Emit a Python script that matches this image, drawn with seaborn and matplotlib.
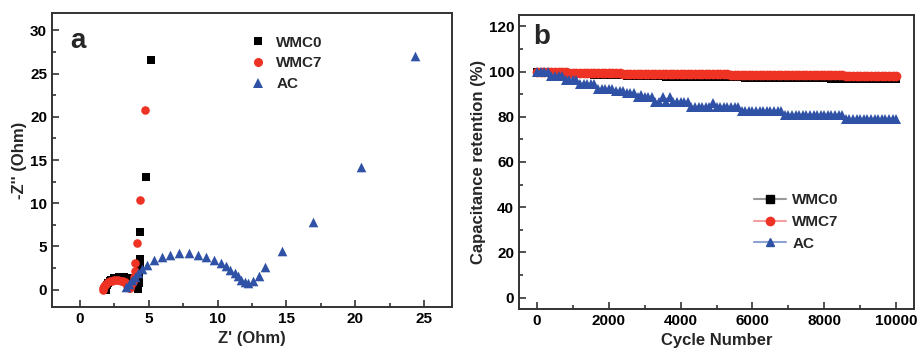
import numpy as np
import pandas as pd
import seaborn as sns
import matplotlib
matplotlib.use("Agg")
import matplotlib.pyplot as plt
from matplotlib.lines import Line2D
from matplotlib.ticker import MultipleLocator

# ---------------- Data: panel a (Nyquist) ----------------
wmc0_x = [1.90, 1.92, 1.97, 2.05, 2.17, 2.31, 2.48, 2.66, 2.85, 3.05, 3.25, 3.44, 3.63, 3.79,
          3.93, 4.05, 4.13, 4.18, 4.20, 4.25, 4.28, 4.30, 4.32, 4.35, 4.38, 4.40, 4.83, 5.19]
wmc0_y = [0.00, 0.26, 0.51, 0.75, 0.96, 1.15, 1.30, 1.41, 1.48, 1.50, 1.48, 1.41, 1.30, 1.15,
          0.96, 0.75, 0.51, 0.26, 0.05, 0.30, 0.80, 1.30, 1.90, 2.60, 3.50, 6.70, 13.0, 26.6]

wmc7_x = [1.70, 1.71, 1.76, 1.83, 1.92, 2.04, 2.18, 2.33, 2.49, 2.65, 2.82, 2.98, 3.13, 3.26,
          3.38, 3.47, 3.54, 3.59, 3.65, 3.75, 3.85, 3.95, 4.00, 4.04, 4.16, 4.40, 4.76]
wmc7_y = [0.00, 0.19, 0.38, 0.55, 0.71, 0.84, 0.95, 1.03, 1.08, 1.10, 1.08, 1.03, 0.95, 0.84,
          0.71, 0.55, 0.38, 0.19, 0.20, 0.50, 0.90, 1.50, 2.20, 3.10, 5.40, 10.4, 20.8]

ac_x = [3.40, 3.60, 3.80, 4.00, 4.25, 4.50, 4.90, 5.40, 5.96, 6.56, 7.23, 7.93, 8.60, 9.20,
        9.73, 10.24, 10.65, 10.94, 11.25, 11.49, 11.73, 11.97, 12.20, 12.57, 12.98, 13.46,
        14.66, 16.90, 20.40, 24.30]
ac_y = [0.30, 0.70, 1.10, 1.50, 1.95, 2.35, 2.90, 3.40, 3.77, 4.04, 4.23, 4.23, 4.04, 3.77,
        3.46, 3.08, 2.69, 2.31, 1.92, 1.53, 1.15, 0.84, 0.77, 1.04, 1.61, 2.57,
        4.50, 7.88, 14.2, 27.0]

# ---------------- Data: panel b (cycling) ----------------
cycles = list(range(0, 10001, 100))

wmc0_ret = [100.0, 99.8, 99.6, 99.5, 99.4, 99.3, 99.2, 99.1, 99.0, 99.0, 98.9,
            98.9, 98.8, 98.8, 98.7, 98.7, 98.6, 98.6, 98.5, 98.5, 98.4,
            98.4, 98.3, 98.3, 98.3, 98.2, 98.2, 98.1, 98.1, 98.1, 98.0,
            98.0, 98.0, 97.9, 97.9, 97.9, 97.8, 97.8, 97.8, 97.8, 97.7,
            97.7, 97.7, 97.7, 97.6, 97.6, 97.6, 97.6, 97.5, 97.5, 97.5,
            97.5, 97.5, 97.4, 97.4, 97.4, 97.4, 97.4, 97.3, 97.3, 97.3,
            97.3, 97.3, 97.3, 97.2, 97.2, 97.2, 97.2, 97.2, 97.2, 97.1,
            97.1, 97.1, 97.1, 97.1, 97.1, 97.0, 97.0, 97.0, 97.0, 97.0,
            97.0, 96.9, 96.9, 96.9, 96.9, 96.9, 96.9, 96.9, 96.8, 96.8,
            96.8, 96.8, 96.8, 96.8, 96.8, 96.7, 96.7, 96.7, 96.7, 96.7]

wmc7_ret = [100.0, 99.9, 99.8, 99.8, 99.7, 99.7, 99.6, 99.6, 99.6, 99.5, 99.5,
            99.5, 99.4, 99.4, 99.4, 99.4, 99.3, 99.3, 99.3, 99.3, 99.2,
            99.2, 99.2, 99.2, 99.1, 99.1, 99.1, 99.1, 99.1, 99.0, 99.0,
            99.0, 99.0, 99.0, 98.9, 98.9, 98.9, 98.9, 98.9, 98.9, 98.8,
            98.8, 98.8, 98.8, 98.8, 98.8, 98.8, 98.7, 98.7, 98.7, 98.7,
            98.7, 98.7, 98.7, 98.6, 98.6, 98.6, 98.6, 98.6, 98.6, 98.6,
            98.5, 98.5, 98.5, 98.5, 98.5, 98.5, 98.5, 98.5, 98.4, 98.4,
            98.4, 98.4, 98.4, 98.4, 98.4, 98.4, 98.3, 98.3, 98.3, 98.3,
            98.3, 98.3, 98.3, 98.3, 98.3, 98.2, 98.2, 98.2, 98.2, 98.2,
            98.2, 98.2, 98.2, 98.2, 98.2, 98.1, 98.1, 98.1, 98.1, 98.1]

ac_ret = [100.0, 100.0, 100.0, 100.0, 98.0, 98.0, 98.0, 98.0, 96.2, 96.2,
          96.2, 96.2, 94.3, 94.3, 94.3, 94.3, 94.3, 92.4, 92.4, 92.4,
          92.4, 92.4, 91.3, 91.3, 91.3, 90.3, 90.3, 90.3, 88.8, 89.6,
          88.8, 88.8, 88.8, 86.6, 86.6, 88.8, 86.6, 88.8, 86.6, 86.6,
          86.6, 86.6, 86.6, 84.4, 84.4, 84.4, 84.4, 84.4, 84.4, 86.3,
          84.4, 84.4, 84.4, 84.4, 84.4, 84.4, 84.4, 82.4, 82.4, 82.4,
          82.4, 82.4, 82.4, 82.4, 82.4, 82.4, 82.4, 82.4, 82.6, 80.7,
          80.7, 80.7, 80.7, 80.7, 80.7, 80.7, 80.7, 80.7, 80.7, 80.7,
          80.7, 80.7, 80.7, 80.7, 80.7, 80.7, 78.9, 78.9, 78.9, 78.9,
          78.9, 78.9, 78.9, 78.9, 78.9, 78.9, 78.9, 78.9, 78.9, 78.9,
          78.9]

labels = ["WMC0", "WMC7", "AC"]
colors = {"WMC0": "#000000", "WMC7": "#EE3224", "AC": "#2F52A6"}
light = {"WMC0": "#999999", "WMC7": "#F4A0A0", "AC": "#8FA2D4"}

# ---------------- Style ----------------
sns.set_theme(style="white")
plt.rcParams["font.family"] = ["Liberation Sans", "DejaVu Sans"]
plt.rcParams["font.weight"] = "bold"
plt.rcParams["axes.labelweight"] = "bold"

fig = plt.figure(figsize=(9.17, 3.48), dpi=100)
axa = fig.add_axes([0.0567, 0.1178, 0.4362, 0.8448])
axb = fig.add_axes([0.5660, 0.1121, 0.4308, 0.8448])

spine_col = "#333333"
for ax in (axa, axb):
    for s in ax.spines.values():
        s.set_color(spine_col)
        s.set_linewidth(1.4)
    ax.tick_params(which="both", direction="in", bottom=True, left=True, top=False, right=False,
                   colors=spine_col, labelcolor="black", labelsize=11, width=1.2)
    ax.tick_params(which="major", length=5)
    ax.tick_params(which="minor", length=3)
    ax.set_facecolor("white")

# ---------------- Panel a ----------------
dfa = pd.concat([
    pd.DataFrame({"x": wmc0_x, "y": wmc0_y, "s": "WMC0"}),
    pd.DataFrame({"x": wmc7_x, "y": wmc7_y, "s": "WMC7"}),
    pd.DataFrame({"x": ac_x, "y": ac_y, "s": "AC"}),
])
mk = {"WMC0": "s", "WMC7": "o", "AC": "^"}
sz = {"WMC0": 30, "WMC7": 38, "AC": 48}
for lab in labels:
    sub = dfa[dfa["s"] == lab]
    sns.scatterplot(data=sub, x="x", y="y", ax=axa, color=colors[lab], marker=mk[lab],
                    s=sz[lab], linewidth=0, label=lab, legend=False, zorder=3)

axa.set_xlim(-2, 27)
axa.set_ylim(-2, 32)
axa.xaxis.set_major_locator(MultipleLocator(5))
axa.xaxis.set_minor_locator(MultipleLocator(2.5))
axa.yaxis.set_major_locator(MultipleLocator(5))
axa.yaxis.set_minor_locator(MultipleLocator(2.5))
axa.set_xlabel("Z' (Ohm)", fontsize=12, fontweight="bold", labelpad=4)
axa.set_ylabel("-Z'' (Ohm)", fontsize=12, fontweight="bold", labelpad=2)
for t in axa.get_xticklabels() + axa.get_yticklabels():
    t.set_fontweight("bold")
axa.text(0.045, 0.905, "a", transform=axa.transAxes, fontsize=20, fontweight="bold",
         va="center", ha="left")
ha = [Line2D([0], [0], lw=0, marker=mk[l], color=colors[l], markersize=6.5 if l != "WMC0" else 5.5,
             markeredgewidth=0) for l in labels]
axa.legend(ha, labels, loc="upper left", bbox_to_anchor=(0.458, 0.97), frameon=False,
           prop={"weight": "bold", "size": 11}, handletextpad=0.6, labelspacing=0.45,
           handlelength=1.2)

# ---------------- Panel b ----------------
dfb = pd.concat([
    pd.DataFrame({"c": cycles, "r": wmc0_ret, "s": "WMC0"}),
    pd.DataFrame({"c": cycles, "r": wmc7_ret, "s": "WMC7"}),
    pd.DataFrame({"c": cycles, "r": ac_ret, "s": "AC"}),
])
msz = {"WMC0": 6, "WMC7": 7, "AC": 7.5}
for lab in labels:
    sub = dfb[dfb["s"] == lab]
    sns.lineplot(data=sub, x="c", y="r", ax=axb, color=colors[lab], marker=mk[lab],
                 markersize=msz[lab], markeredgewidth=0,
                 linewidth=1, legend=False, zorder=3)

axb.set_xlim(-500, 10500)
axb.set_ylim(-5, 125)
axb.xaxis.set_major_locator(MultipleLocator(2000))
axb.xaxis.set_minor_locator(MultipleLocator(1000))
axb.yaxis.set_major_locator(MultipleLocator(20))
axb.yaxis.set_minor_locator(MultipleLocator(10))
axb.set_xlabel("Cycle Number", fontsize=12, fontweight="bold", labelpad=4)
axb.set_ylabel("Capacitance retention (%)", fontsize=12, fontweight="bold", labelpad=2)
for t in axb.get_xticklabels() + axb.get_yticklabels():
    t.set_fontweight("bold")
axb.text(0.035, 0.925, "b", transform=axb.transAxes, fontsize=20, fontweight="bold",
         va="center", ha="left")
hb = [Line2D([0], [0], lw=1.5, color=light[l], marker=mk[l], markerfacecolor=colors[l],
             markeredgecolor=colors[l], markersize=6) for l in labels]
axb.legend(hb, labels, loc="upper left", bbox_to_anchor=(0.56, 0.44), frameon=False,
           prop={"weight": "bold", "size": 11}, handletextpad=0.4, labelspacing=0.5,
           handlelength=2.1)

fig.savefig("out.png", dpi=100)
